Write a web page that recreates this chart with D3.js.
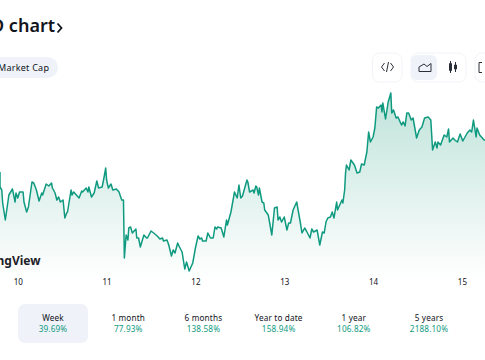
<!DOCTYPE html>
<html>
<head>
<meta charset="utf-8">
<script src="https://cdn.jsdelivr.net/npm/d3@7/dist/d3.min.js"></script>
<style>
  html, body { margin: 0; padding: 0; background: #fff; overflow: hidden; }
  svg { display: block; font-family: "Noto Sans", sans-serif; }
</style>
</head>
<body>
<svg id="chart" width="485" height="360"></svg>
<script>
'use strict'

// time in hundredths of a day after the start of the 10th, price in estimated chart units
var times = [-20,-20,-18,-17,-14,-10,-6,-3,-2,0,2,6,7,10,12,16,18,21,24,27,28,32,35,38,39,42,44,46,48,51,53,55,56,60,61,63,66,69,72,73,77,79,80,83,86,89,91,95,97,99,100,102,105,107,111,114,117,119,120,122,124,125,127,129,133,134,136,138,142,145,146,150,153,157,160,163,164,168,170,173,175,177,180,182,185,188,190,193,197,200,203,205,207,208,212,214,217,220,222,224,225,229,232,235,236,240,244,247,249,251,253,258,259,261,265,266,268,269,271,272,275,277,278,282,286,289,292,293,295,297,300,303,305,307,310,314,318,320,323,325,329,331,333,337,340,343,345,347,349,352,354,356,359,360,365,366,368,369,370,373,375,379,382,385,387,390,393,395,397,400,402,404,406,409,410,411,414,417,420,421,423,426,428,432,434,436,438,440,443,445,449,452,455,458,462,465,467,470,472,473,476,480,483,485,486,490,492,495,498,501,506,509,511,513,516,517,520,525,526];
var prices = [108,93,90,77,60,85,91,78,87,82,88,88,78,68,73,98,97,90,79,87,85,96,94,97,92,87,80,83,78,80,62,67,68,90,85,88,85,82,89,88,92,88,93,83,87,99,92,93,102,112,100,92,96,90,91,88,80,80,22,45,40,52,53,47,51,42,42,33,45,42,42,49,47,44,41,42,39,40,35,24,30,27,37,33,28,11,18,9,17,32,44,41,42,39,39,47,42,42,53,51,53,52,43,60,55,68,88,82,95,82,84,100,98,88,90,87,94,93,85,92,78,77,70,65,45,72,73,60,63,58,63,50,57,57,70,78,58,47,52,49,42,51,48,50,35,48,47,58,62,63,68,62,78,70,80,77,90,107,115,110,120,115,107,108,116,115,128,148,138,143,152,173,172,175,168,177,161,178,187,167,170,162,163,155,158,154,167,167,160,162,142,150,153,162,163,160,130,138,132,138,135,145,143,151,138,142,140,138,146,139,147,150,148,160,143,152,145,140,140];

var dayTicks = [0, 100, 200, 300, 400, 500];
var dayLabels = ['10', '11', '12', '13', '14', '15'];

var tabNames = ['Week', '1 month', '6 months', 'Year to date', '1 year', '5 years'];
var tabChanges = ['39.69%', '77.93%', '138.58%', '158.94%', '106.82%', '2188.10%'];

var ink = '#11141a', teal = '#0f9a80', pill = '#eff2f9', edge = '#f1f3f8';

var svg = d3.select('#chart');

var x = d3.scaleLinear().domain([-20, 526]).range([0, 485]);
var y = d3.scaleLinear().domain([0, 190]).range([280, 90]);

var defs = svg.append('defs');
var grad = defs.append('linearGradient').attr('id', 'fade')
	.attr('x1', 0).attr('x2', 0).attr('y1', 0).attr('y2', 1);
grad.append('stop').attr('offset', '0%').attr('stop-color', '#bfe3da');
grad.append('stop').attr('offset', '100%').attr('stop-color', '#ffffff');

var points = d3.zip(times, prices);

var area = d3.area().x(function(d) { return x(d[0]); }).y0(y(0)).y1(function(d) { return y(d[1]); });
var line = d3.line().x(function(d) { return x(d[0]); }).y(function(d) { return y(d[1]); });

svg.append('path').datum(points).attr('d', area).attr('fill', 'url(#fade)');
svg.append('path').datum(points).attr('d', line)
	.attr('fill', 'none').attr('stroke', teal).attr('stroke-width', 1.5).attr('stroke-linejoin', 'round');

// day axis
var axis = d3.axisBottom(x).tickValues(dayTicks).tickSize(0).tickPadding(0)
	.tickFormat(function(d, i) { return dayLabels[i]; });
var axisG = svg.append('g').attr('transform', 'translate(0,279)').call(axis);
axisG.select('.domain').remove();
axisG.selectAll('text').attr('font-size', 8).attr('font-family', '"Noto Sans", sans-serif').attr('fill', ink);

// title and pill, both run off the left edge
svg.append('text').attr('x', -9).attr('y', 32).attr('font-size', 18).attr('font-weight', 600).attr('fill', ink).text('D chart');
svg.append('path').attr('d', 'M57.5 23.5 L61.5 28 L57.5 32.5').attr('fill', 'none').attr('stroke', ink).attr('stroke-width', 1.8);
svg.append('rect').attr('x', -30).attr('y', 57).attr('width', 88).attr('height', 21).attr('rx', 10.5).attr('fill', pill);
svg.append('text').attr('x', -2).attr('y', 71).attr('font-size', 9).attr('letter-spacing', 0.25).attr('fill', ink).text('Market Cap');

// logo remnant
svg.append('text').attr('x', -3.5).attr('y', 265).attr('font-size', 12).attr('font-weight', 700).attr('fill', '#1f2128').text('ngView');

// toolbar
svg.append('rect').attr('x', 372.5).attr('y', 53).attr('width', 29.5).attr('height', 29).attr('rx', 7).attr('fill', '#fff').attr('stroke', edge);
svg.append('rect').attr('x', 411).attr('y', 53).attr('width', 55).attr('height', 29).attr('rx', 7).attr('fill', '#fff').attr('stroke', edge);
svg.append('rect').attr('x', 411).attr('y', 55).attr('width', 26).attr('height', 25).attr('rx', 6).attr('fill', pill);
svg.append('rect').attr('x', 475).attr('y', 53).attr('width', 29).attr('height', 29).attr('rx', 7).attr('fill', '#fff').attr('stroke', edge);

var icons = [
	'M384.5 63 L381.5 67 L384.5 71 M390.5 63 L393.5 67 L390.5 71 M388.5 62 L386.5 72',
	'M419 71.5 L419 67 L424 64 L427 66.5 L431 63.5 L431 71.5 Z',
	'M450.5 61 L450.5 73 M449.5 63.5 h2 v7 h-2 Z M455.5 62 L455.5 72 M454.5 65 h2 v4 h-2 Z',
	'M482 62.5 h-3 v10 h3'
];
svg.selectAll('.icon').data(icons).join('path').attr('class', 'icon').attr('d', function(d) { return d; })
	.attr('fill', 'none').attr('stroke', '#2a2e37').attr('stroke-width', 1);

// period tabs
var tabX = d3.scalePoint().domain(tabNames).range([53, 429]);
svg.append('rect').attr('x', 18).attr('y', 304).attr('width', 70).attr('height', 39).attr('rx', 7).attr('fill', pill);
var tabs = svg.selectAll('.tab').data(tabNames).join('g').attr('class', 'tab')
	.attr('transform', function(d) { return 'translate(' + tabX(d) + ',0)'; })
	.attr('text-anchor', 'middle').attr('font-size', 8.2).attr('letter-spacing', 0.15);
tabs.append('text').attr('y', 321).attr('fill', ink).text(function(d) { return d; });
tabs.append('text').attr('y', 332).attr('fill', teal).text(function(d, i) { return tabChanges[i]; });
</script>
</body>
</html>
